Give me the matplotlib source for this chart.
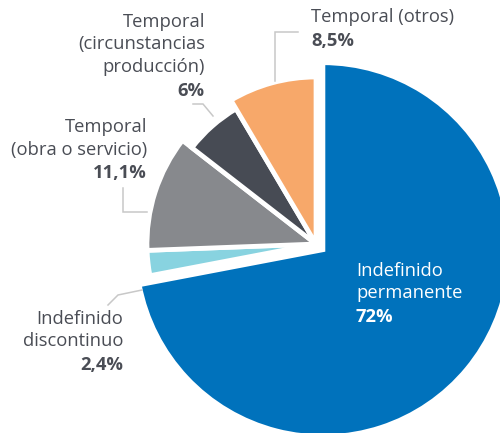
import matplotlib
matplotlib.use("Agg")
import matplotlib.pyplot as plt

plt.rcParams['font.family'] = ['Open Sans', 'DejaVu Sans']

# datos
categorias = ["Indefinido\npermanente", "Indefinido\ndiscontinuo",
              "Temporal\n(obra o servicio)",
              "Temporal\n(circunstancias\nproducción)", "Temporal (otros)"]
valores = [72, 2.4, 11.1, 6, 8.5]
colores = ["#0072BC", "#88D3E0", "#87898D", "#474B54", "#F7A86A"]

W, H = 500, 433
TXT = "#4A4D55"
LINE = "#C8C8C8"

def px(x, y):
    # pixel coords (origin top-left) -> data coords
    return x, H - y

fig = plt.figure(figsize=(W / 100, H / 100), dpi=100)
ax = fig.add_axes([0, 0, 1, 1])

cx, cy = px(316, 244)
wedges, _ = ax.pie(valores, colors=colores, startangle=90, counterclock=False,
                   explode=[9, 0, 0, 0, 0], center=(cx, cy), radius=185,
                   wedgeprops=dict(edgecolor="white", linewidth=3.4))
radios = [187, 169, 169, 157, 167]
for w, r in zip(wedges, radios):
    w.set_radius(r)

ax.set_xlim(0, W)
ax.set_ylim(0, H)
ax.set_aspect("equal")
ax.axis("off")

pct = [("%g" % v).replace(".", ",") + "%" for v in valores]
fs = 13.2

def etiqueta(x, y, nombre, p, ha, color=TXT, gap=22.5):
    n = nombre.count("\n") + 1
    for i, linea in enumerate(nombre.split("\n")):
        ax.text(*px(x, y + i * gap), linea, ha=ha, va="center",
                fontsize=fs, color=color)
    ax.text(*px(x, y + n * gap + 1), p, ha=ha, va="center",
            fontsize=fs, color=color, fontweight="bold")

etiqueta(356, 271, categorias[0], pct[0], "left", color="white")
etiqueta(123, 319, categorias[1], pct[1], "right")
etiqueta(147, 127, categorias[2], pct[2], "right")
etiqueta(205, 22, categorias[3], pct[3], "right")
etiqueta(311, 17, categorias[4], pct[4], "left")

# líneas guía
guias = [
    [(275, 81), (275, 32), (298, 32)],
    [(193, 104), (203, 104), (213, 116)],
    [(123, 188), (123, 212), (147, 212)],
    [(142, 290), (118, 295), (108, 305)],
]
for g in guias:
    xs, ys = zip(*[px(a, b) for a, b in g])
    ax.plot(xs, ys, color=LINE, lw=1.1, solid_joinstyle="miter")

fig.savefig("out.png", dpi=100)
